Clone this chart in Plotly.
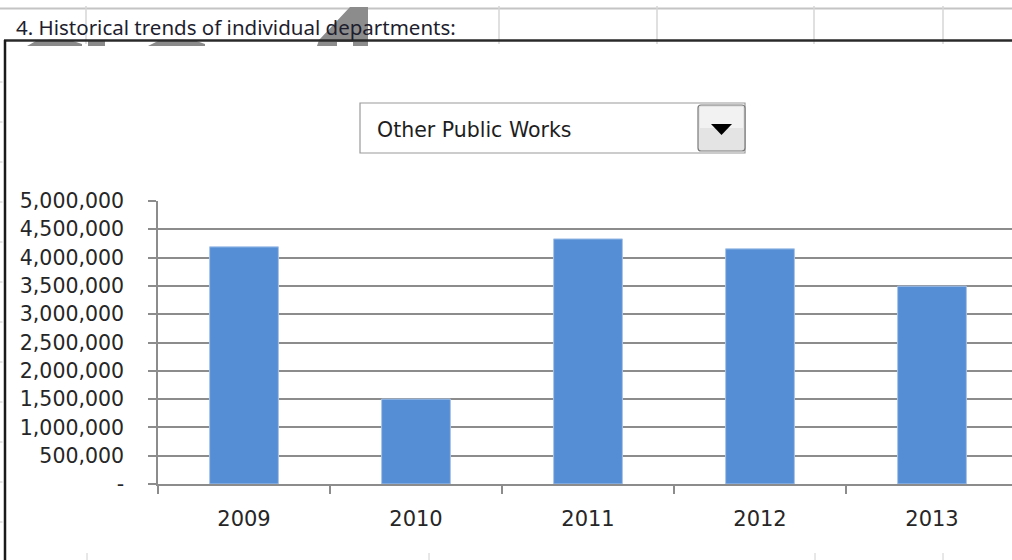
import plotly.graph_objects as go

# Department spending by fiscal year
years = ["2009", "2010", "2011", "2012", "2013"]
spending = [4190000, 1500000, 4330000, 4155000, 3495000]

y_ticks = [0, 500000, 1000000, 1500000, 2000000, 2500000,
           3000000, 3500000, 4000000, 4500000, 5000000]
y_tick_text = ["-", "500,000", "1,000,000", "1,500,000", "2,000,000", "2,500,000",
               "3,000,000", "3,500,000", "4,000,000", "4,500,000", "5,000,000"]

title_text = "4. Historical trends of individual departments:"
selected_department = "Other Public Works"

W, H = 1012, 560
PL, PR, PT, PB = 158, 1012, 201, 484  # plot area in pixels


def px(x):
    return (x - PL) / (PR - PL)


def py(y):
    return (PB - y) / (PB - PT)


def line(x0, y0, x1, y1, color, width):
    return dict(type="line", xref="paper", yref="paper",
                x0=px(x0), y0=py(y0), x1=px(x1), y1=py(y1),
                line=dict(color=color, width=width), layer="above")


def rect(x0, y0, x1, y1, fill, border=None, bw=1):
    return dict(type="rect", xref="paper", yref="paper",
                x0=px(x0), y0=py(y0), x1=px(x1), y1=py(y1),
                fillcolor=fill, line=dict(color=border or fill, width=bw if border else 0),
                layer="above")


def poly(points, fill):
    d = "M " + " L ".join(f"{px(x):.5f},{py(y):.5f}" for x, y in points) + " Z"
    return dict(type="path", xref="paper", yref="paper", path=d,
                fillcolor=fill, line=dict(width=0), layer="above")


fig = go.Figure()
fig.add_trace(go.Bar(
    x=years, y=spending, width=0.4,
    marker=dict(color="#558ED5", line=dict(color="#A8C4EA", width=1)),
    hoverinfo="x+y",
))

shapes = []
# spreadsheet grid above the chart object
shapes.append(line(0, 8.5, W, 8.5, "#C4C4C4", 2))
for gx in [86, 499, 657, 814, 943]:
    shapes.append(line(gx, 6, gx, 44, "#D6D6D6", 1.5))
# faint row marks to the left of the chart border
for gy in [82, 122, 162, 202, 242, 282, 322, 362, 402, 442, 482, 522]:
    shapes.append(line(0, gy, 2.5, gy, "#C8C8C8", 1))
for gx in [87, 429, 815, 943]:
    shapes.append(line(gx, 553, gx, 560, "#D0D0D0", 1))

# gray shapes peeking out behind the header row
shapes.append(poly([(27, 46), (36, 41), (52, 39.5), (70, 40), (82, 44), (82, 46)], "#8A8A8A"))
shapes.append(poly([(88, 41), (105, 41), (105, 46), (88, 46)], "#8A8A8A"))
shapes.append(poly([(148, 46), (158, 41), (176, 39.5), (195, 40.5), (205, 44), (205, 46)], "#8A8A8A"))
shapes.append(poly([(317, 46), (319, 40), (350, 7), (368, 7), (368, 46), (353, 46),
                    (353, 42), (337, 42), (337, 46)], "#8C8C8C"))

# chart object border (top and left)
shapes.append(line(4, 40.5, W, 40.5, "#2A2A2A", 2.5))
shapes.append(line(5, 40, 5, H, "#1A1A1A", 2.5))

# y axis extends below the baseline like the category ticks
shapes.append(line(158, 484, 158, 492, "#8C8C8C", 1.5))

# combo box
shapes.append(rect(360, 103, 745, 153, "#FFFFFF", "#9A9A9A", 1.2))
shapes.append(dict(type="path", xref="paper", yref="paper",
                   path=(f"M {px(701):.5f},{py(105):.5f} L {px(742):.5f},{py(105):.5f} "
                         f"Q {px(745):.5f},{py(105):.5f} {px(745):.5f},{py(108):.5f} "
                         f"L {px(745):.5f},{py(148):.5f} Q {px(745):.5f},{py(151):.5f} {px(742):.5f},{py(151):.5f} "
                         f"L {px(701):.5f},{py(151):.5f} Q {px(698):.5f},{py(151):.5f} {px(698):.5f},{py(148):.5f} "
                         f"L {px(698):.5f},{py(108):.5f} Q {px(698):.5f},{py(105):.5f} {px(701):.5f},{py(105):.5f} Z"),
                   fillcolor="#E4E4E4", line=dict(color="#7A7A7A", width=1.2), layer="above"))
shapes.append(rect(700, 107, 743, 128, "#F2F2F2"))
shapes.append(poly([(711, 124), (732, 124), (721.5, 135)], "#000000"))

annotations = [
    dict(text=title_text, xref="paper", yref="paper", x=px(14), y=py(27),
         xanchor="left", yanchor="middle", showarrow=False,
         font=dict(family="Noto Sans", size=20.5, color="#1E1E2E")),
    dict(text=selected_department, xref="paper", yref="paper", x=px(375), y=py(130),
         xanchor="left", yanchor="middle", showarrow=False,
         font=dict(family="DejaVu Sans", size=20.5, color="#1E1E1E")),
]

fig.update_layout(
    width=W, height=H,
    margin=dict(l=PL, r=W - PR, t=PT, b=H - PB, pad=0),
    paper_bgcolor="#FFFFFF", plot_bgcolor="#FFFFFF",
    showlegend=False,
    shapes=shapes,
    annotations=annotations,
    xaxis=dict(
        type="category", range=[-0.5, -0.5 + (PR - PL) / 172.0],
        showline=True, linecolor="#8C8C8C", linewidth=1.5,
        ticks="outside", tickson="boundaries", ticklen=8, tickcolor="#8C8C8C", tickwidth=1.5,
        showgrid=False, zeroline=False,
        tickfont=dict(family="DejaVu Sans", size=21, color="#262626"),
        ticklabelstandoff=15,
    ),
    yaxis=dict(
        range=[0, 5000000], tickvals=y_ticks, ticktext=y_tick_text,
        showline=True, linecolor="#8C8C8C", linewidth=1.5,
        ticks="outside", ticklen=8, tickcolor="#8C8C8C", tickwidth=1.5,
        showgrid=True, gridcolor="#8C8C8C", gridwidth=1.5,
        zeroline=False,
        tickfont=dict(family="DejaVu Sans", size=20.5, color="#262626"),
        ticklabelstandoff=20,
    ),
)

fig.write_html("out.html")
